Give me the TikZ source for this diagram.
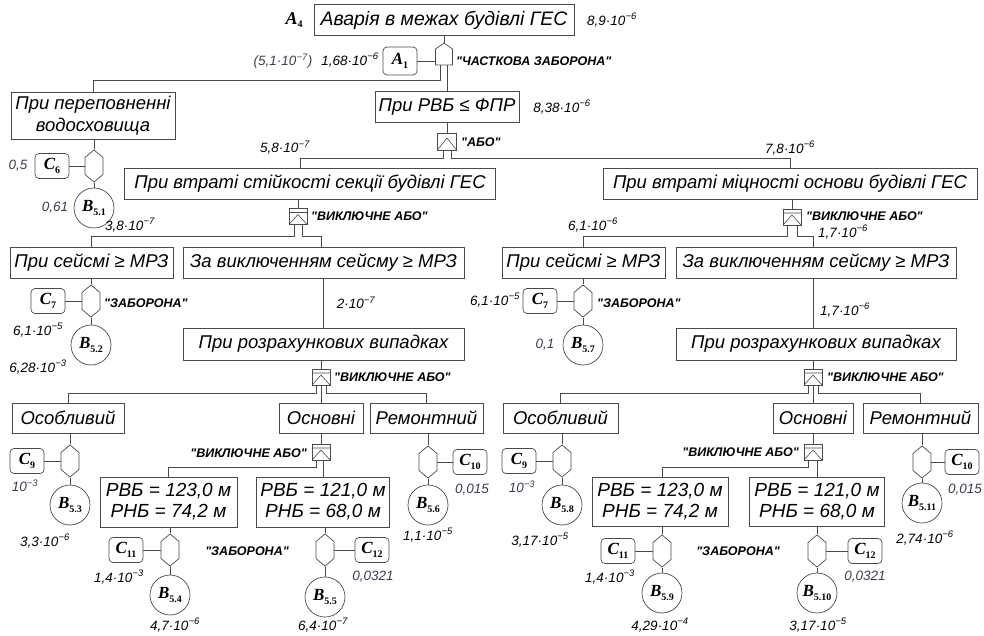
\documentclass[tikz,border=0pt]{standalone}
\usepackage{fontspec}
\setmainfont{Liberation Sans}
\newfontfamily\evfont{Liberation Serif}
\usetikzlibrary{shapes.symbols,positioning}
\definecolor{lncol}{HTML}{4A4A4A}
\definecolor{numgray}{HTML}{3C3C4C}
\newcommand{\ev}[2]{{\evfont\bfseries\itshape #1\raisebox{-.45ex}{\fontsize{10}{10}\selectfont\upshape #2}}}
\newcommand{\tp}[1]{10\textsuperscript{−#1}}
\newcommand{\qt}[1]{\textquotedbl#1\textquotedbl}

\begin{document}
\begin{tikzpicture}[x=1pt, y=-1pt,
    box/.style={draw=lncol, line width=.8pt, align=center, minimum height=31, inner sep=1pt,
      font=\itshape\fontsize{18.5}{22}\selectfont},
    twoline/.style={box, minimum height=50, font=\itshape\fontsize{19}{21}\selectfont},
    cond/.style={draw=lncol, line width=.7pt, rounded corners=4pt, minimum width=34,
      minimum height=25, inner sep=0pt, font=\fontsize{17}{17}\selectfont},
    basic/.style={circle, draw=lncol, line width=.7pt, minimum size=40, inner sep=0pt,
      font=\fontsize{17}{17}\selectfont},
    inhib/.style={signal, signal to=north and south, signal pointer angle=100, draw=lncol,
      line width=.7pt, minimum width=18, minimum height=17, inner sep=0pt},
    house/.style={signal, signal to=north, signal pointer angle=110, draw=lncol,
      line width=.7pt, minimum width=17, minimum height=16, inner sep=0pt},
    xorg/.style={draw=lncol, line width=.7pt, minimum width=18, minimum height=16, inner sep=0pt,
      path picture={\draw[lncol, line width=.6pt]
        ([yshift=-4pt]path picture bounding box.north west) -- ([yshift=-4pt]path picture bounding box.north east)
        (path picture bounding box.south west) -- ([yshift=-6pt]path picture bounding box.north)
        -- (path picture bounding box.south east);}},
    org/.style={draw=lncol, line width=.7pt, minimum width=19, minimum height=17, inner sep=0pt,
      path picture={\draw[lncol, line width=.6pt]
        (path picture bounding box.south west) -- ([yshift=-5pt]path picture bounding box.north)
        -- (path picture bounding box.south east);}},
    prob/.style={inner sep=0pt, font=\itshape\fontsize{13.5}{15}\selectfont},
    gname/.style={inner sep=0pt, font=\bfseries\itshape\fontsize{12.5}{14}\selectfont},
    evl/.style={inner sep=0pt, font=\fontsize{18}{18}\selectfont},
    wire/.style={draw=lncol, line width=.7pt}
  ]
  \useasboundingbox (0,0) rectangle (984,636);

  % top event
  \node[box, minimum width=260, font=\itshape\fontsize{19.5}{22}\selectfont] (top) at (444,20) {Аварія в межах будівлі ГЕС};
  \node[evl] (A4) at (294,20) {\ev{A}{4}};
  \node[prob] (pTop) at (612,20) {8,9·\tp{6}};
  \node[house] (gPart) at (444,57) {};
  \node[cond, minimum height=28] (A1) at (400,61) {\ev{A}{1}};
  \node[prob, text=numgray] (pA1a) at (283,61) {(5,1·\tp{7})};
  \node[prob] (pA1b) at (350,60) {1,68·\tp{6}};
  \node[gname, anchor=west] (nPart) at (456,61) {\qt{ЧАСТКОВА ЗАБОРОНА}};
  \draw[wire] (top) -- (gPart);
  \draw[wire] (A1.east) -- (A1.east -| gPart.west);

  \node[box, minimum width=164, minimum height=47] (flood) at (93,116) {При переповненні\\водосховища};
  \node[inhib] (hF) at (94,166) {};
  \node[cond] (C6) at (52,166) {\ev{C}{6}};
  \node[prob, text=numgray] (pC6) at (18,166) {0,5};
  \node[basic] (B51) at (94,208) {\ev{B}{5.1}};
  \node[prob, text=numgray] (pB51) at (55,208) {0,61};
  \draw[wire] ([xshift=-4pt]gPart.south) -- ++(0,15) -| (flood.north);
  \draw[wire] (hF.north |- flood.south) -- (hF.north);
  \draw[wire] (C6) -- (hF);
  \draw[wire] (hF) -- (B51);

  \node[box, minimum width=144] (rvb) at (447,107) {При РВБ ≤ ФПР};
  \node[prob] (pRvb) at (562,107) {8,38·\tp{6}};
  \draw[wire] ([xshift=3pt]gPart.south) -- (rvb.north);
  \node[org] (gOR) at (447,141.5) {};
  \node[gname, anchor=west] (nOR) at (461,142) {\qt{АБО}};
  \draw[wire] (rvb) -- (gOR);

  \node[box, minimum width=371] (stab) at (310,184) {При втраті стійкості секції будівлі ГЕС};
  \node[prob] (pStab) at (285,148) {5,8·\tp{7}};
  \node[box, minimum width=374] (strn) at (790,184) {При втраті міцності основи будівлі ГЕС};
  \node[prob] (pStrn) at (790,148) {7,8·\tp{6}};
  \draw[wire] ([xshift=-4pt]gOR.south) -- ++(0,8) -| ([xshift=-10pt]stab.north);
  \draw[wire] ([xshift=4pt]gOR.south) -- ++(0,8) -| (strn.north);

  % left half
  \node[xorg] (gX1) at (298,216.5) {};
  \node[gname, anchor=west] (nX1) at (311,216) {\qt{ВИКЛЮЧНЕ АБО}};
  \node[prob] (pSeisL) at (130,225) {3,8·\tp{7}};
  \node[box, minimum width=163] (seisL) at (91.5,262.5) {При сейсмі ≥ МРЗ};
  \node[box, minimum width=281] (exL) at (323.5,262.5) {За виключенням сейсму ≥ МРЗ};
  \draw[wire] (gX1.north |- stab.south) -- (gX1.north);
  \draw[wire] ([xshift=-4pt]gX1.south) -- ++(0,12) -| (seisL.north);
  \draw[wire] ([xshift=4pt]gX1.south) -- ++(0,12) -| ([xshift=-2pt]exL.north);

  \node[inhib] (h2) at (91,301) {};
  \node[cond] (C7) at (48,301) {\ev{C}{7}};
  \node[gname, anchor=west] (nZ1) at (104,303) {\qt{ЗАБОРОНА}};
  \node[basic] (B52) at (91,345) {\ev{B}{5.2}};
  \node[prob] (pC7) at (38,330) {6,1·\tp{5}};
  \node[prob] (pB52) at (38,367) {6,28·\tp{3}};
  \draw[wire] (h2.north |- seisL.south) -- (h2.north);
  \draw[wire] (C7) -- (h2);
  \draw[wire] (h2) -- (B52);

  \node[prob] (pExL) at (356,303) {2·\tp{7}};
  \node[box, minimum width=281, minimum height=32] (calcL) at (323.5,344) {При розрахункових випадках};
  \draw[wire] (exL) -- (calcL);
  \node[xorg] (gX2) at (321,377) {};
  \node[gname, anchor=west] (nX2) at (334,377) {\qt{ВИКЛЮЧНЕ АБО}};
  \draw[wire] (gX2.north |- calcL.south) -- (gX2.north);

  \node[box, minimum width=112, minimum height=30] (osL) at (68,418) {Особливий};
  \node[box, minimum width=84, minimum height=30] (basL) at (321,418) {Основні};
  \node[box, minimum width=113, minimum height=30] (remL) at (426.5,418) {Ремонтний};
  \draw[wire] ([xshift=-5pt]gX2.south) -- ++(0,8) -| (osL.north);
  \draw[wire] (gX2) -- (basL);
  \draw[wire] ([xshift=5pt]gX2.south) -- ++(0,8) -| (remL.north);

  \node[inhib] (h3) at (70,461) {};
  \node[cond] (C9) at (27,461) {\ev{C}{9}};
  \node[prob, text=numgray] (pC9) at (25,486) {\tp{3}};
  \node[basic] (B53) at (70,505) {\ev{B}{5.3}};
  \node[prob] (pB53) at (45,541) {3,3·\tp{6}};
  \draw[wire] (h3.north |- osL.south) -- (h3.north);
  \draw[wire] (C9) -- (h3);
  \draw[wire] (h3) -- (B53);

  \node[xorg] (gX3) at (321,452) {};
  \node[gname, anchor=east] (nX3) at (307,453) {\qt{ВИКЛЮЧНЕ АБО}};
  \draw[wire] (basL) -- (gX3);
  \node[twoline, minimum width=137] (rvb1L) at (168.5,502) {РВБ = 123,0 м\\РНБ = 74,2 м};
  \node[twoline, minimum width=133] (rvb2L) at (323,502) {РВБ = 121,0 м\\РНБ = 68,0 м};
  \draw[wire] ([xshift=-5pt]gX3.south) -- ++(0,7) -| (rvb1L.north);
  \draw[wire] ([xshift=2pt]gX3.south) -- (rvb2L.north);

  \node[inhib] (h4) at (170,550) {};
  \node[cond] (C11) at (126,550) {\ev{C}{11}};
  \node[prob] (pC11) at (119,577) {1,4·\tp{3}};
  \node[basic] (B54) at (170,595) {\ev{B}{5.4}};
  \node[prob] (pB54) at (175,625) {4,7·\tp{6}};
  \node[gname] (nZ2) at (247,551) {\qt{ЗАБОРОНА}};
  \draw[wire] (h4.north |- rvb1L.south) -- (h4.north);
  \draw[wire] (C11) -- (h4);
  \draw[wire] (h4) -- (B54);

  \node[inhib] (h5) at (325,550) {};
  \node[cond] (C12) at (372,550) {\ev{C}{12}};
  \node[prob, text=numgray] (pC12) at (373,577) {0,0321};
  \node[basic] (B55) at (325,597) {\ev{B}{5.5}};
  \node[prob] (pB55) at (323,625) {6,4·\tp{7}};
  \draw[wire] (h5.north |- rvb2L.south) -- (h5.north);
  \draw[wire] (C12) -- (h5);
  \draw[wire] (h5) -- (B55);

  \node[inhib] (h6) at (428,462) {};
  \node[cond] (C10) at (470,462) {\ev{C}{10}};
  \node[prob, text=numgray] (pC10) at (472,490) {0,015};
  \node[basic] (B56) at (428,505) {\ev{B}{5.6}};
  \node[prob] (pB56) at (428,535) {1,1·\tp{5}};
  \draw[wire] (h6.north |- remL.south) -- (h6.north);
  \draw[wire] (C10) -- (h6);
  \draw[wire] (h6) -- (B56);

  % right half
  \node[xorg] (gX4) at (792,217) {};
  \node[gname, anchor=west] (nX4) at (806,216) {\qt{ВИКЛЮЧНЕ АБО}};
  \node[prob] (pSeisR) at (593,225) {6,1·\tp{6}};
  \node[prob] (pExR) at (843,232) {1,7·\tp{6}};
  \node[box, minimum width=163] (seisR) at (583.5,262.5) {При сейсмі ≥ МРЗ};
  \node[box, minimum width=280] (exR) at (816,262.5) {За виключенням сейсму ≥ МРЗ};
  \draw[wire] (gX4.north |- strn.south) -- (gX4.north);
  \draw[wire] ([xshift=-5pt]gX4.south) -- ++(0,11) -| (seisR.north);
  \draw[wire] ([xshift=5pt]gX4.south) -- ++(0,11) -| ([xshift=-3pt]exR.north);

  \node[inhib] (h7) at (583,301) {};
  \node[cond] (C7R) at (540,301) {\ev{C}{7}};
  \node[prob] (pC7R) at (495,300) {6,1·\tp{5}};
  \node[gname, anchor=west] (nZ3) at (597,303) {\qt{ЗАБОРОНА}};
  \node[basic] (B57) at (583,345) {\ev{B}{5.7}};
  \node[prob, text=numgray] (pB57) at (545,345) {0,1};
  \draw[wire] (h7.north |- seisR.south) -- (h7.north);
  \draw[wire] (C7R) -- (h7);
  \draw[wire] (h7) -- (B57);

  \node[prob] (pCalcR) at (845,310) {1,7·\tp{6}};
  \node[box, minimum width=280, minimum height=32] (calcR) at (816,344) {При розрахункових випадках};
  \draw[wire] ([xshift=-3pt]exR.south) -- ([xshift=-3pt]calcR.north);
  \node[xorg] (gX5) at (813,377) {};
  \node[gname, anchor=west] (nX5) at (827,377) {\qt{ВИКЛЮЧНЕ АБО}};
  \draw[wire] (gX5.north |- calcR.south) -- (gX5.north);

  \node[box, minimum width=115, minimum height=30] (osR) at (560.5,418) {Особливий};
  \node[box, minimum width=80, minimum height=30] (basR) at (813,418) {Основні};
  \node[box, minimum width=115, minimum height=30] (remR) at (920.5,418) {Ремонтний};
  \draw[wire] ([xshift=-5pt]gX5.south) -- ++(0,8) -| (osR.north);
  \draw[wire] (gX5) -- (basR);
  \draw[wire] ([xshift=5pt]gX5.south) -- ++(0,8) -| (remR.north);

  \node[inhib] (h8) at (562,461) {};
  \node[cond] (C9R) at (519,461) {\ev{C}{9}};
  \node[prob, text=numgray] (pC9R) at (522,487) {\tp{3}};
  \node[basic] (B58) at (562,505) {\ev{B}{5.8}};
  \node[prob] (pB58) at (540,540) {3,17·\tp{5}};
  \draw[wire] (h8.north |- osR.south) -- (h8.north);
  \draw[wire] (C9R) -- (h8);
  \draw[wire] (h8) -- (B58);

  \node[xorg] (gX6) at (813,452) {};
  \node[gname, anchor=east] (nX6) at (799,452) {\qt{ВИКЛЮЧНЕ АБО}};
  \draw[wire] (basR) -- (gX6);
  \node[twoline, minimum width=136, minimum height=49] (rvb1R) at (660,501.5) {РВБ = 123,0 м\\РНБ = 74,2 м};
  \node[twoline, minimum width=135, minimum height=49] (rvb2R) at (817,501.5) {РВБ = 121,0 м\\РНБ = 68,0 м};
  \draw[wire] ([xshift=-5pt]gX6.south) -- ++(0,7) -| ([xshift=2pt]rvb1R.north);
  \draw[wire] ([xshift=4pt]gX6.south) -- (rvb2R.north);

  \node[inhib] (h9) at (662,551) {};
  \node[cond] (C11R) at (618,551) {\ev{C}{11}};
  \node[prob] (pC11R) at (610,577) {1,4·\tp{3}};
  \node[basic] (B59) at (662,593) {\ev{B}{5.9}};
  \node[prob] (pB59) at (660,625) {4,29·\tp{4}};
  \node[gname] (nZ4) at (738,551) {\qt{ЗАБОРОНА}};
  \draw[wire] (h9.north |- rvb1R.south) -- (h9.north);
  \draw[wire] (C11R) -- (h9);
  \draw[wire] (h9) -- (B59);

  \node[inhib] (h10) at (817,551) {};
  \node[cond] (C12R) at (865,551) {\ev{C}{12}};
  \node[prob, text=numgray] (pC12R) at (865,577) {0,0321};
  \node[basic] (B510) at (817,593) {\ev{B}{5.10}};
  \node[prob] (pB510) at (818,625) {3,17·\tp{5}};
  \draw[wire] (rvb2R) -- (h10);
  \draw[wire] (C12R) -- (h10);
  \draw[wire] (h10) -- (B510);

  \node[inhib] (h11) at (922,462) {};
  \node[cond] (C10R) at (962,462) {\ev{C}{10}};
  \node[prob, text=numgray] (pC10R) at (965,490) {0,015};
  \node[basic] (B511) at (922,503) {\ev{B}{5.11}};
  \node[prob] (pB511) at (925,538) {2,74·\tp{6}};
  \draw[wire] (h11.north |- remR.south) -- (h11.north);
  \draw[wire] (C10R) -- (h11);
  \draw[wire] (h11) -- (B511);
\end{tikzpicture}
\end{document}
